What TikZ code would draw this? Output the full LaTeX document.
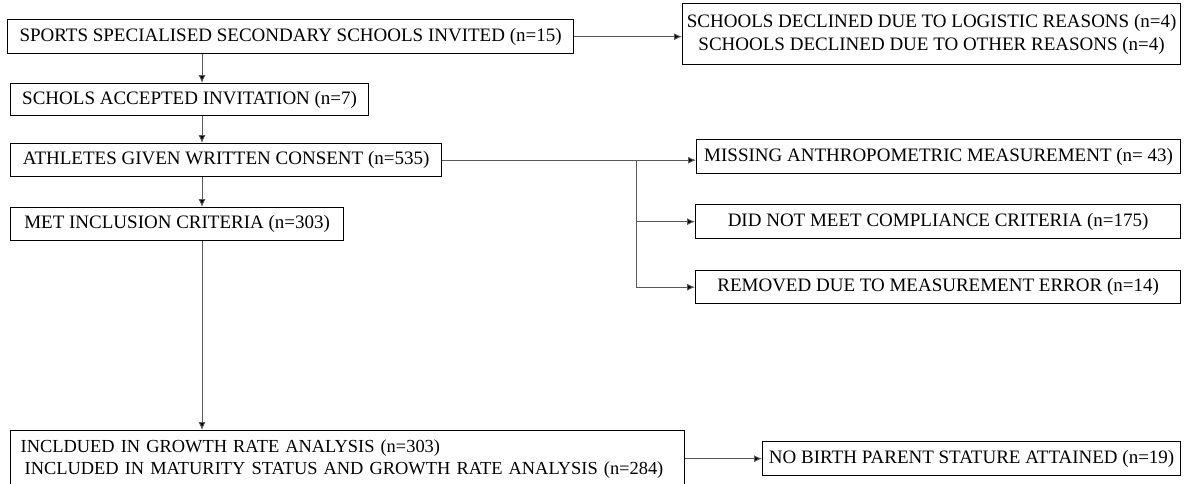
\documentclass[tikz,border=0pt]{standalone}
\usepackage{fontspec}
\setmainfont{Liberation Serif}
\usetikzlibrary{arrows.meta}
\begin{document}
\begin{tikzpicture}[x=1pt,y=-1pt,
    box/.style={draw,line width=1.3pt,anchor=north west,inner sep=0pt,
      font=\fontsize{19}{23}\selectfont},
    link/.style={draw=black!65,line width=0.9pt,
      -{Latex[length=8pt,width=7pt,fill=black]}}]

  \useasboundingbox (0,0) rectangle (1192,483);

  \coordinate (spine) at (202,0);
  \coordinate (branch) at (636,0);

  % main column
  \node[box,minimum width=566,minimum height=34] (invited) at (7,19)
    {SPORTS SPECIALISED SECONDARY SCHOOLS INVITED (n=15)};
  \node[box,minimum width=358,minimum height=32] (accepted) at (10,83)
    {SCHOLS ACCEPTED INVITATION (n=7)};
  \node[box,minimum width=431,minimum height=33] (consent) at (10,143)
    {ATHLETES GIVEN WRITTEN CONSENT (n=535)};
  \node[box,minimum width=333,minimum height=33] (criteria) at (10,207)
    {MET INCLUSION CRITERIA (n=303)};
  \node[box,minimum width=674,minimum height=57,text width=654,
        inner xsep=10pt,align=left,font=\fontsize{18.4}{22}\selectfont] (analysis) at (10,430)
    {INCLDUED IN GROWTH RATE ANALYSIS (n=303)\\
     \mbox{\hspace{4pt}INCLUDED IN MATURITY STATUS AND GROWTH RATE ANALYSIS (n=284)}};

  % exclusions
  \node[box,minimum width=498,minimum height=61,align=center] (declined) at (682,3)
    {SCHOOLS DECLINED DUE TO LOGISTIC REASONS (n=4)\\
     SCHOOLS DECLINED DUE TO OTHER REASONS (n=4)};
  \node[box,minimum width=484,minimum height=34] (missing) at (696,139)
    {MISSING ANTHROPOMETRIC MEASUREMENT (n= 43)};
  \node[box,minimum width=485,minimum height=34] (compliance) at (695,204)
    {DID NOT MEET COMPLIANCE CRITERIA (n=175)};
  \node[box,minimum width=485,minimum height=33] (error) at (695,270)
    {REMOVED DUE TO MEASUREMENT ERROR (n=14)};
  \node[box,minimum width=418,minimum height=34] (parent) at (762,441)
    {NO BIRTH PARENT STATURE ATTAINED (n=19)};

  % flow down
  \draw[link] (invited.south -| spine) -- (accepted.north -| spine);
  \draw[link] (accepted.south -| spine) -- (consent.north -| spine);
  \draw[link] (consent.south -| spine) -- (criteria.north -| spine);
  \draw[link] (criteria.south -| spine) -- (analysis.north -| spine);

  % flow right
  \draw[link] (invited.east) -- (invited.east -| declined.west);
  \draw[link] (consent.east) -- (consent.east -| missing.west);
  \draw[link] (consent.east -| branch) |- (error.west);
  \draw[link] (compliance.west -| branch) -- (compliance.west);
  \draw[link] (analysis.east |- parent.west) -- (parent.west);
\end{tikzpicture}
\end{document}
